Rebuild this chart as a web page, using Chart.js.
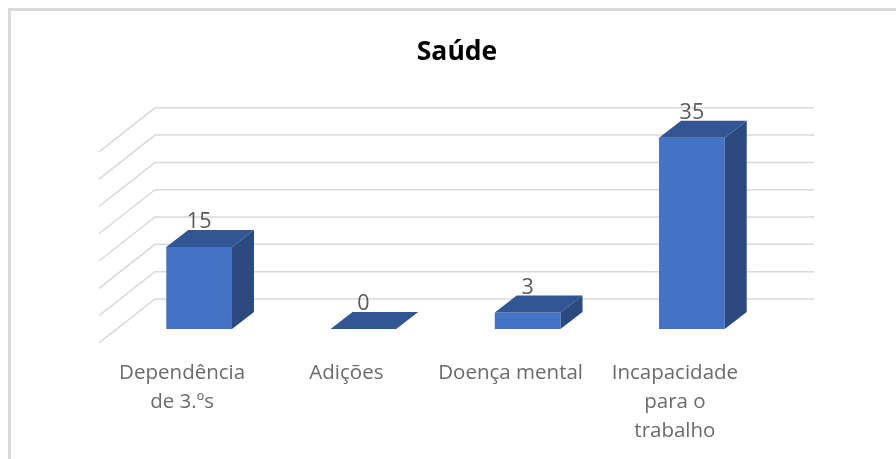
<!DOCTYPE html>
<html>
<head>
<meta charset="utf-8">
<title>Saúde</title>
<script src="https://cdn.jsdelivr.net/npm/chart.js@4/dist/chart.umd.min.js"></script>
<style>
  html, body { margin: 0; padding: 0; background: #fff; }
  #wrap { position: relative; width: 896px; height: 459px; overflow: hidden; }
  #frame { position: absolute; left: 8px; top: 8px; width: 900px; height: 470px; border: 3px solid #d9d9d9; box-sizing: border-box; }
  canvas { position: absolute; left: 0; top: 0; }
</style>
</head>
<body>
<div id="wrap">
  <div id="frame"></div>
  <canvas id="chart-saude" width="896" height="459"></canvas>
</div>
<script>
var categories = [['Dependência', 'de 3.ºs'], 'Adições', 'Doença mental', ['Incapacidade', 'para o', 'trabalho']];
var values = [15, 0, 3, 35];
var gridTicks = [0, 5, 10, 15, 20, 25, 30, 35];

// fake 3D: depth of the bar and of the floor, in px
var barDepth = {x: 22, y: -17};
var wallDepth = {x: 38, y: 30}; // bar plane -> back wall
var floorDepth = {x: -56, y: 44}; // back wall -> front of the floor
var wallRight = 814;

var fakeDepth = {
  id: 'fakeDepth',
  beforeDatasetsDraw: function(chart) {
    var ctx = chart.ctx, y = chart.scales.y;
    var left = chart.scales.x.left + wallDepth.x;
    ctx.save();
    ctx.strokeStyle = '#d9d9d9';
    ctx.lineWidth = 1.5;
    gridTicks.forEach(function(t) {
      var py = y.getPixelForValue(t);
      ctx.beginPath();
      ctx.moveTo(left + floorDepth.x, py + floorDepth.y);
      ctx.lineTo(left, py);
      ctx.lineTo(wallRight, py);
      ctx.stroke();
    });
    ctx.restore();
  },
  afterDatasetsDraw: function(chart) {
    var ctx = chart.ctx;
    ctx.save();
    chart.getDatasetMeta(0).data.forEach(function(bar, i) {
      var l = bar.x - bar.width / 2, r = bar.x + bar.width / 2, top = bar.y, base = bar.base;
      // top face
      ctx.fillStyle = '#325594';
      ctx.beginPath();
      ctx.moveTo(l, top);
      ctx.lineTo(l + barDepth.x, top + barDepth.y);
      ctx.lineTo(r + barDepth.x, top + barDepth.y);
      ctx.lineTo(r, top);
      ctx.closePath();
      ctx.fill();
      // side face
      if(base > top) {
        ctx.fillStyle = '#2a4a80';
        ctx.beginPath();
        ctx.moveTo(r, top);
        ctx.lineTo(r + barDepth.x, top + barDepth.y);
        ctx.lineTo(r + barDepth.x, base + barDepth.y);
        ctx.lineTo(r, base);
        ctx.closePath();
        ctx.fill();
      }
      // value label
      ctx.fillStyle = '#595959';
      ctx.font = '21.5px "Open Sans"';
      ctx.textAlign = 'center';
      ctx.textBaseline = 'middle';
      ctx.fillText(values[i], bar.x, top - 25);
    });
    ctx.restore();
  }
};

new Chart(document.getElementById('chart-saude'), {
  type: 'bar',
  data: {
    labels: categories,
    datasets: [{
      data: values,
      yAxisID: 'yBar',
      backgroundColor: '#4472c4',
      barPercentage: 1,
      categoryPercentage: 0.4
    }]
  },
  options: {
    responsive: false,
    animation: false,
    layout: {padding: {left: 18, right: 0, top: 0, bottom: 0}},
    plugins: {
      legend: {display: false},
      tooltip: {enabled: false},
      title: {
        display: true,
        text: 'Saúde',
        color: '#000',
        font: {family: '"Open Sans"', size: 26.5, weight: 'bold'},
        padding: {top: 37, bottom: 39}
      }
    },
    scales: {
      x: {
        grid: {display: false},
        border: {display: false},
        ticks: {
          color: '#6b6b6b',
          font: {family: '"Open Sans"', size: 20.5, lineHeight: 1.41},
          padding: 22,
          labelOffset: -17,
          maxRotation: 0,
          autoSkip: false
        },
        afterFit: function(scale) { scale.height = 130; }
      },
      // back wall gridlines, 30px above the bars' plane
      y: {
        position: 'left',
        min: -5.5,
        max: 35,
        grid: {display: false},
        border: {display: false},
        ticks: {display: false},
        afterFit: function(scale) { scale.width = 99; }
      },
      yBar: {
        position: 'right',
        min: 0,
        max: 40.5,
        grid: {display: false},
        border: {display: false},
        ticks: {display: false},
        afterFit: function(scale) { scale.width = 122; }
      }
    }
  },
  plugins: [fakeDepth]
});
</script>
</body>
</html>
